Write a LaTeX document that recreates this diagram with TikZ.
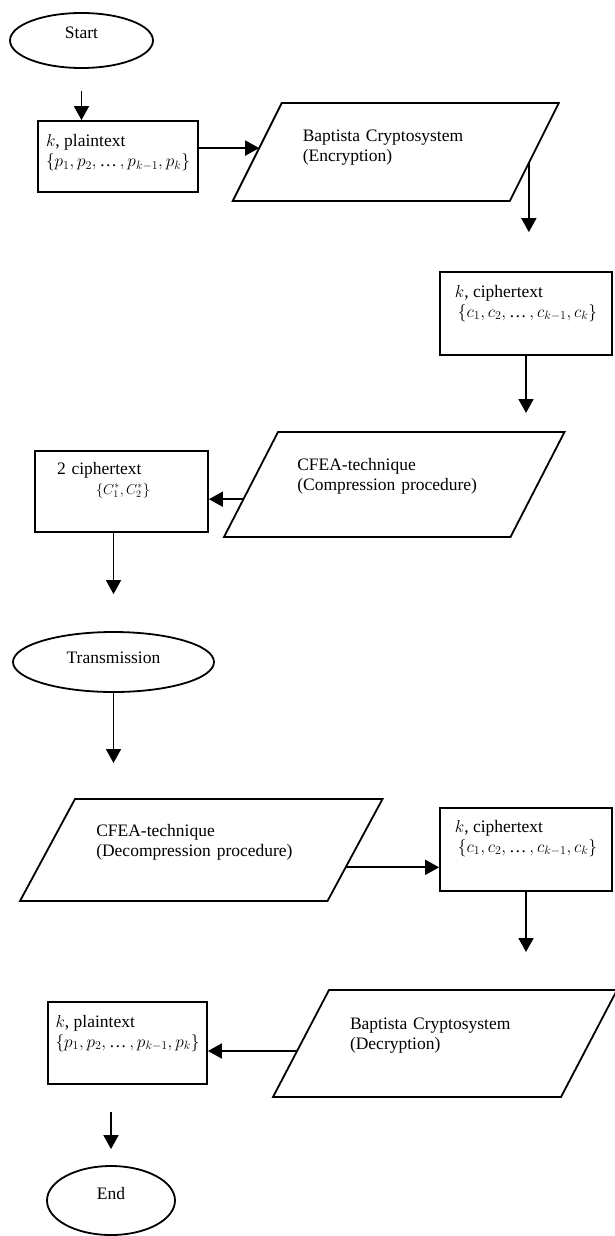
\documentclass[tikz,border=0pt]{standalone}
\usepackage{fontspec}
\setmainfont{Liberation Serif}
\usetikzlibrary{shapes.geometric,arrows.meta,calc}
\newcommand{\padlow}[1]{\rule[-#1]{0pt}{#1}}
\newcommand{\dotsep}{\mbox{…}\,}
\newcommand{\slantframe}[2]{%
  \coordinate (#1-tl) at ([xshift=#2]#1.north west);
  \coordinate (#1-tr) at ([xshift=#2]#1.north east);
  \coordinate (#1-br) at ([xshift=-#2]#1.south east);
  \coordinate (#1-bl) at ([xshift=-#2]#1.south west);
  \draw[frame] (#1-tl) -- (#1-tr) -- (#1-br) -- (#1-bl) -- cycle;}

\begin{document}
\begin{tikzpicture}[x=1pt,y=-1pt,
    font=\fontsize{17.5}{20}\selectfont,
    frame/.style={line width=1.8pt,line join=miter},
    term/.style={draw,ellipse,line width=1.8pt,inner sep=0pt,text height=11.6pt},
    box/.style={draw,rectangle,line width=1.8pt,align=left,inner sep=0pt},
    para/.style={rectangle,align=left,inner sep=0pt,outer sep=0pt},
    arrow/.style={line width=1.8pt,-{Triangle[width=15pt,length=14pt]}}]
  \useasboundingbox (0,0) rectangle (614,1236);
  \node[term,minimum width=143pt,minimum height=55pt,text depth=16pt] (start) at (81.5,40.5) {Start};
  \node[box,minimum width=160pt,minimum height=71pt] (box1) at (118,156.5)
    {$k$, plaintext\\$\{p_1, p_2, \dotsep, p_{k-1}, p_k\}$\padlow{12pt}};
  \node[para,minimum width=277pt,minimum height=98pt,text width=186pt] (enc) at (395.75,152)
    {Baptista Cryptosystem\\(Encryption)\padlow{12pt}};
  \slantframe{enc}{24.5pt}
  \node[box,minimum width=172pt,minimum height=83pt] (box2) at (526,313.5)
    {$k$, ciphertext\\\hspace*{3pt}$\{c_1, c_2, \dotsep, c_{k-1}, c_k\}$\padlow{25pt}};
  \node[para,minimum width=286.5pt,minimum height=105pt,text width=194pt] (comp) at (394.25,484.5)
    {CFEA-technique\\(Compression procedure)\padlow{20pt}};
  \slantframe{comp}{27pt}
  \node[box,minimum width=173pt,minimum height=81pt,text width=129pt] (box3) at (121.5,491.5)
    {2 ciphertext\\\hspace*{39pt}{\fontsize{14}{16}\selectfont$\{C_1^*, C_2^*\}$}\padlow{27pt}};
  \node[term,minimum width=201pt,minimum height=60pt,text depth=8pt] (trans) at (113.5,662) {Transmission};
  \node[para,minimum width=307.5pt,minimum height=102pt,text width=210pt] (decomp) at (201.25,850)
    {CFEA-technique\\(Decompression procedure)\padlow{20pt}};
  \slantframe{decomp}{27.5pt}
  \node[box,minimum width=172pt,minimum height=83pt] (box4) at (526,849.5)
    {$k$, ciphertext\\\hspace*{3pt}$\{c_1, c_2, \dotsep, c_{k-1}, c_k\}$\padlow{27pt}};
  \node[para,minimum width=288pt,minimum height=107pt,text width=190pt] (dec) at (445,1043.5)
    {Baptista Cryptosystem\\(Decryption)\padlow{20pt}};
  \slantframe{dec}{28pt}
  \node[box,minimum width=159pt,minimum height=82pt] (box5) at (127.5,1043)
    {$k$, plaintext\\$\{p_1, p_2, \dotsep, p_{k-1}, p_k\}$\padlow{24pt}};
  \node[term,minimum width=128pt,minimum height=69pt,text depth=14pt] (end) at (111,1200.5) {End};

  \coordinate (encin) at ($(enc-tl)!.46!(enc-bl)$);
  \coordinate (encout) at ($(enc-tr)!.61!(enc-br)$);
  \coordinate (compout) at ($(comp-tl)!.64!(comp-bl)$);
  \coordinate (decompout) at ($(decomp-tr)!.67!(decomp-br)$);
  \coordinate (decout) at ($(dec-tl)!.57!(dec-bl)$);

  \draw[arrow,shorten <=22pt] (start.south) -- (start.south |- box1.north);
  \draw[arrow] (box1.east |- encin) -- (encin);
  \draw[arrow,shorten >=39pt] (encout) -- (encout |- box2.north);
  \draw[arrow,shorten >=19pt] (box2.south) -- (box2.south |- comp.north);
  \draw[arrow] (compout) -- (compout -| box3.east);
  \draw[arrow,shorten >=37pt] (trans.north |- box3.south) -- (trans.north);
  \draw[arrow,shorten >=36pt] (trans.south) -- (trans.south |- decomp.north);
  \draw[arrow] (decompout) -- (decompout -| box4.west);
  \draw[arrow,shorten >=38pt] (box4.south) -- (box4.south |- dec.north);
  \draw[arrow] (decout) -- (decout -| box5.east);
  \draw[arrow,shorten <=27pt,shorten >=16pt] (end.north |- box5.south) -- (end.north);
\end{tikzpicture}
\end{document}
